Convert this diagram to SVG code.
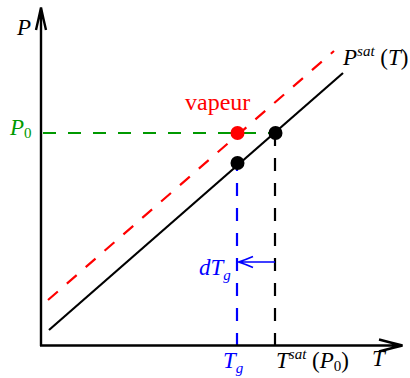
<svg xmlns="http://www.w3.org/2000/svg" width="410" height="378" viewBox="0 0 410 378">
<style>
.t{font-family:"Liberation Serif","DejaVu Serif",serif;font-style:italic;font-size:23px}
.r{font-family:"Liberation Serif","DejaVu Serif",serif;font-size:24px}
.s{font-size:15px}
.d{fill:none;stroke-width:2.2;stroke-dasharray:13 12}
</style>
<rect width="410" height="378" fill="#fff"/>
<g id="connectors">
  <line class="d" x1="48" y1="300" x2="334" y2="51" stroke="#ff0000"/>
  <line class="d" x1="43" y1="133" x2="275" y2="133" stroke="#009900"/>
  <line class="d" x1="237" y1="346" x2="237" y2="163" stroke="#0000ff"/>
  <line class="d" x1="275" y1="346" x2="275" y2="133" stroke="#000"/>
  <line x1="49" y1="330" x2="343" y2="73" stroke="#000" stroke-width="2.2"/>
  <path d="M275,262 H239 M253,256.5 Q245,260 238.5,262 Q245,264 253,267.5" fill="none" stroke="#0000ff" stroke-width="1.6"/>
</g>
<g id="axes">
  <path d="M41,346 V9 M36,30 Q39,17 41,7.5 Q43,17 46,30" fill="none" stroke="#000" stroke-width="2.4"/>
  <path d="M40,345.5 H401 M379,339.5 Q392,343 402.5,345.5 Q392,348 379,351.5" fill="none" stroke="#000" stroke-width="2.4"/>
</g>
<g id="points">
  <circle id="vapeur-pt" cx="237.5" cy="133" r="7" fill="#ff0000"/>
  <circle id="sat-pt" cx="275.5" cy="133" r="7" fill="#000"/>
  <circle id="g-pt" cx="237.5" cy="163" r="7" fill="#000"/>
</g>
<g id="labels">
  <text class="t" x="17" y="35">P</text>
  <text class="t" x="10" y="135" fill="#009900">P<tspan class="s" dy="3" font-style="normal">0</tspan></text>
  <text class="r" x="185" y="110" fill="#ff0000">vapeur</text>
  <text class="t" x="343" y="65">P<tspan class="s" dy="-9">sat</tspan><tspan dy="9" font-style="normal"> (</tspan>T<tspan font-style="normal">)</tspan></text>
  <text class="t" x="199" y="275" fill="#0000ff">dT<tspan class="s" dy="5">g</tspan></text>
  <text class="t" x="223" y="368" fill="#0000ff">T<tspan class="s" dy="5">g</tspan></text>
  <text class="t" x="276" y="368">T<tspan class="s" dy="-9">sat</tspan><tspan dy="9" font-style="normal"> (</tspan>P<tspan class="s" dy="3" font-style="normal">0</tspan><tspan dy="-3" font-style="normal">)</tspan></text>
  <text class="t" x="372" y="366">T</text>
</g>
</svg>
